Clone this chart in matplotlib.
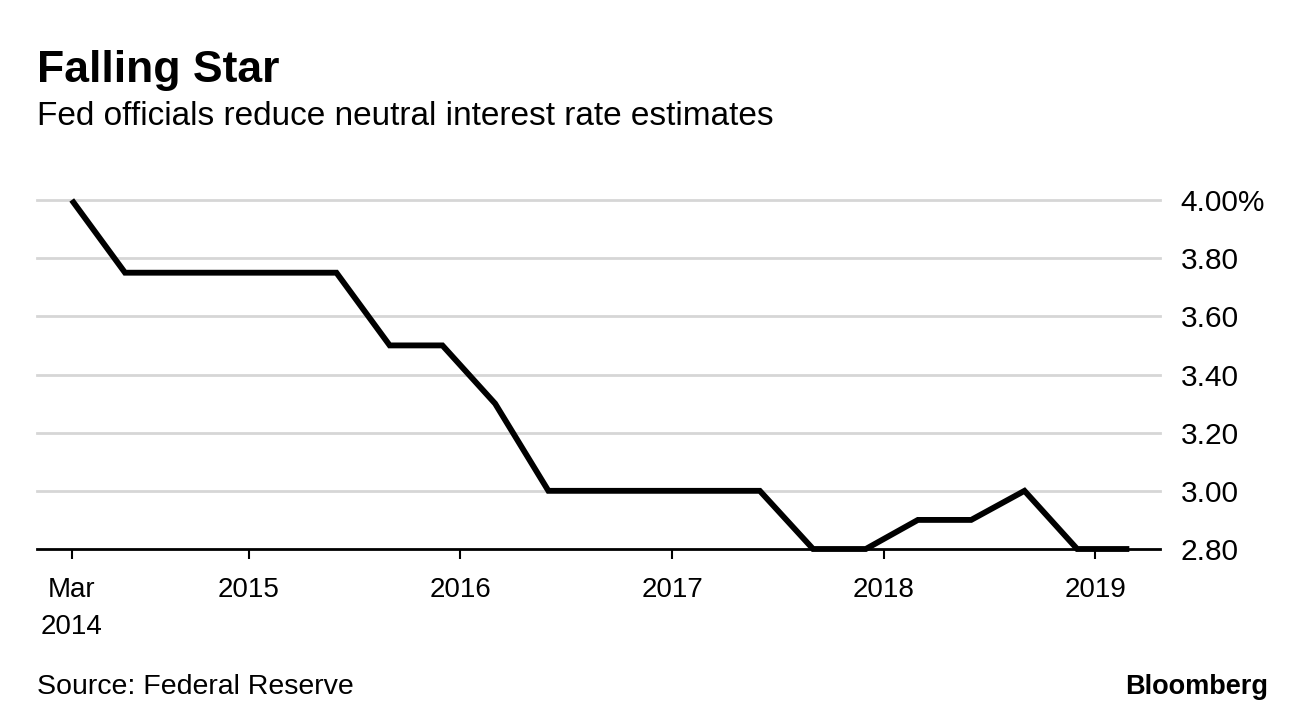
import matplotlib
matplotlib.use("Agg")
import matplotlib.pyplot as plt
import matplotlib.dates as mdates
import datetime as dt

# ---- data ----
dates = ["2014-03-01", "2014-06-01", "2014-09-01", "2014-12-01",
         "2015-03-01", "2015-06-01", "2015-09-01", "2015-12-01",
         "2016-03-01", "2016-06-01", "2016-09-01", "2016-12-01",
         "2017-03-01", "2017-06-01", "2017-09-01", "2017-12-01",
         "2018-03-01", "2018-06-01", "2018-09-01", "2018-12-01",
         "2019-03-01"]
rates = [4.00, 3.75, 3.75, 3.75,
         3.75, 3.75, 3.50, 3.50,
         3.30, 3.00, 3.00, 3.00,
         3.00, 3.00, 2.80, 2.80,
         2.90, 2.90, 3.00, 2.80,
         2.80]
x_ticks = ["2014-03-01", "2015-01-01", "2016-01-01", "2017-01-01",
           "2018-01-01", "2019-01-01"]
x_tick_labels = ["Mar\n2014", "2015", "2016", "2017", "2018", "2019"]
y_ticks = [2.80, 3.00, 3.20, 3.40, 3.60, 3.80, 4.00]
y_tick_labels = ["2.80", "3.00", "3.20", "3.40", "3.60", "3.80", "4.00%"]

title = "Falling Star"
subtitle = "Fed officials reduce neutral interest rate estimates"
source = "Source: Federal Reserve"
brand = "Bloomberg"

plt.rcParams['font.family'] = ['Liberation Sans', 'DejaVu Sans']

W, H = 1296, 716
fig = plt.figure(figsize=(W / 100, H / 100), dpi=100)
fig.patch.set_facecolor("white")

ax_left, ax_right, ax_top, ax_bottom = 37, 1160, 200, 549
ax = fig.add_axes([ax_left / W, 1 - ax_bottom / H,
                   (ax_right - ax_left) / W, (ax_bottom - ax_top) / H])

def to_num(lst):
    return mdates.date2num([dt.datetime.strptime(d, "%Y-%m-%d") for d in lst])

ax.plot(to_num(dates), rates, color="black", lw=4.2, solid_joinstyle="miter",
        solid_capstyle="butt", clip_on=False, zorder=5)

ax.set_ylim(2.80, 4.00)
ax.set_xlim(mdates.date2num(dt.datetime(2013, 12, 31)),
            mdates.date2num(dt.datetime(2019, 4, 23)))

ax.set_yticks(y_ticks)
ax.set_yticklabels(y_tick_labels)
for y in y_ticks[1:]:
    ax.axhline(y, color="#d6d6d6", lw=2.0, zorder=1, clip_on=False)

ax.set_xticks(to_num(x_ticks))
ax.set_xticklabels(x_tick_labels, linespacing=1.55)

ax.yaxis.tick_right()
ax.tick_params(axis="y", length=0, pad=15, labelsize=21.5, colors="black")
ax.tick_params(axis="x", direction="out", length=7.5, width=1.5, pad=13,
               labelsize=20, colors="black")

for s in ["top", "left", "right"]:
    ax.spines[s].set_visible(False)
ax.spines["bottom"].set_linewidth(2.0)
ax.spines["bottom"].set_zorder(4)

fig.text(37 / W, 1 - 82 / H, title, fontsize=32, fontweight="bold",
         ha="left", va="baseline")
fig.text(37 / W, 1 - 125 / H, subtitle, fontsize=24,
         ha="left", va="baseline")
fig.text(37 / W, 1 - 694 / H, source, fontsize=20.5,
         ha="left", va="baseline")
fig.text(1268 / W, 1 - 694 / H, brand, fontsize=19.5, fontweight="heavy",
         ha="right", va="baseline")

fig.savefig("out.png", dpi=100, facecolor="white")
